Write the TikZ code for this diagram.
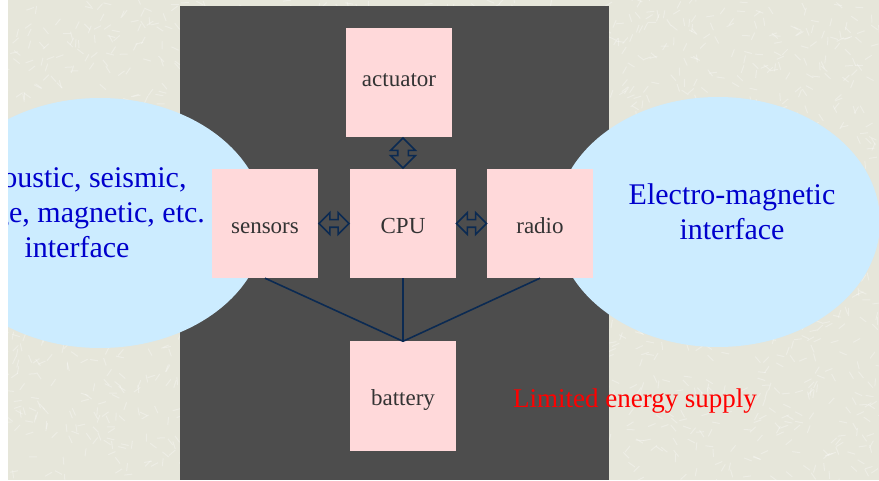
\documentclass[tikz,border=0pt]{standalone}
\usepackage{fontspec}
\setmainfont{Liberation Serif}
\usepackage{xcolor}
\usetikzlibrary{shapes.arrows,calc}
\definecolor{bgbeige}{HTML}{E6E6DA}
\definecolor{darkpanel}{HTML}{4D4D4D}
\definecolor{skyblue}{HTML}{CCECFF}
\definecolor{boxpink}{HTML}{FFD9DA}
\definecolor{navyline}{HTML}{0B2A52}
\definecolor{textgray}{HTML}{333333}
\definecolor{ifaceblue}{HTML}{0000CC}
\tikzset{
  unit/.style={fill=boxpink,minimum width=106pt,minimum height=109pt,inner sep=0pt,
    text=textgray,font=\fontsize{23}{27}\selectfont,text height=20pt,text depth=0pt},
  iface/.style={text=ifaceblue,align=center,font=\fontsize{30}{35}\selectfont},
  linkarrow/.style={double arrow,draw=navyline,fill=darkpanel,line width=1.6pt,
    inner sep=3pt,minimum height=30pt,minimum width=14pt},
  wire/.style={navyline,line width=1.6pt},
  streak/.style={white,opacity=.3,line width=1pt}
}

\begin{document}
\begin{tikzpicture}[x=1pt,y=-1pt]
  \useasboundingbox (0,0) rectangle (879,481);
  % textured paper
  \fill[bgbeige] (0,0) rectangle (879,481);
  \pgfmathsetseed{11}
  \foreach \i in {1,...,2600}{
    \pgfmathsetmacro\px{879*rnd}
    \pgfmathsetmacro\py{481*rnd}
    \pgfmathsetmacro\pa{360*rnd}
    \draw[streak] (\px,\py) -- ++(\pa:8);
  }
  % board and the two interfaces
  \fill[darkpanel] (180,6) rectangle (609,480);
  \fill[skyblue] (100,223) ellipse [x radius=165,y radius=125];
  \fill[skyblue] (718,222) ellipse [x radius=162,y radius=125];
  \node[iface] (acoustic) at (77,213) {Acoustic, seismic,\\image, magnetic, etc.\\interface};
  \node[iface] (electro) at (732,212) {Electro-magnetic\\interface};
  \fill[white] (0,0) rectangle (8,481);
  \fill[white] (0,480) rectangle (879,481);
  % units
  \node[unit,text height=9pt] (actuator) at (399,82.5) {actuator};
  \node[unit] (sensors) at (265,223.5) {sensors};
  \node[unit] (cpu) at (403,223.5) {CPU};
  \node[unit] (radio) at (540,223.5) {radio};
  \node[unit] (battery) at (403,396) {battery};
  \node[text=red,font=\fontsize{27}{31}\selectfont] (limited) at (635,401) {Limited energy supply};
  % links
  \node[linkarrow] (sc) at ($(sensors.east)!.5!(cpu.west)$) {};
  \node[linkarrow] (cr) at ($(cpu.east)!.5!(radio.west)$) {};
  \node[linkarrow,rotate=90,inner sep=4.5pt,minimum width=19pt] (ac) at ($(actuator.south)!.5!(cpu.north)+(2,0)$) {};
  \draw[wire] (battery.north) -- (sensors.south);
  \draw[wire] (battery.north) -- (cpu.south);
  \draw[wire] (battery.north) -- (radio.south);
\end{tikzpicture}
\end{document}
